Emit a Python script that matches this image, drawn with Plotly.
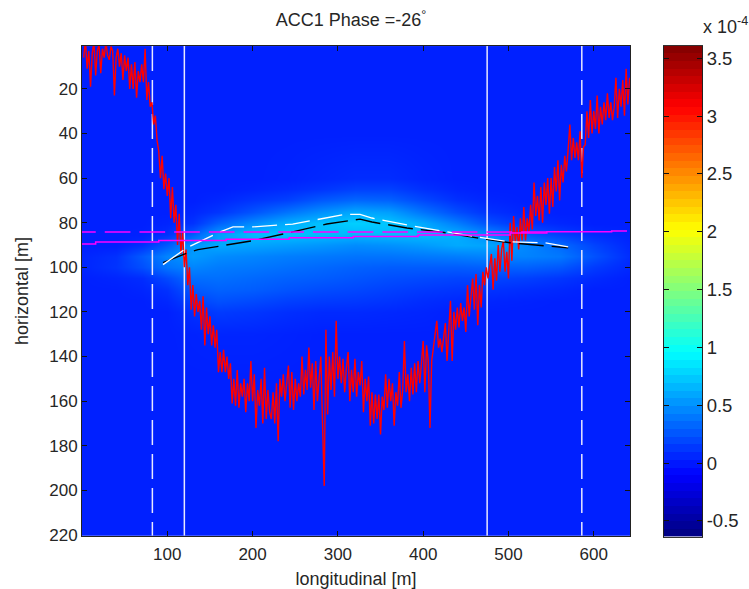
import numpy as np
import plotly.graph_objects as go

# ---- data ----
trace_values = [
    6,-2,11,3,19,4,-1,14,3,0,13,2,6,-1,5,7,1,3,23,6,
    2,10,4,16,5,12,6,20,9,20,8,24,12,17,9,17,2,25,17,28,
    26,36,32,43,48,60,50,65,58,68,60,78,64,80,72,90,76,94,84,100,
    92,108,100,119,108,122,112,120,115,128,113,135,118,130,122,135,126,136,128,147,
    138,147,137,147,140,150,143,161,150,162,146,163,152,158,150,165,152,160,142,160,
    148,172,155,162,150,170,145,168,155,165,168,156,170,152,178,150,158,148,160,150,
    144,163,147,164,150,160,152,158,140,157,146,155,136,154,143,164,142,160,150,140,
    170,198,128,166,140,155,138,158,124,150,140,152,141,156,145,138,160,146,156,141,
    158,147,153,142,165,150,160,149,171,156,170,157,168,157,175,158,164,148,163,150,
    160,152,171,156,162,147,163,155,133,156,148,160,145,157,143,156,142,152,143,133,
    156,135,142,172,142,136,130,124,136,132,138,130,125,142,128,115,142,120,128,118,
    127,116,124,118,129,108,122,112,105,119,103,126,108,118,102,108,100,105,98,94,
    110,96,106,90,102,92,88,102,93,105,80,97,77,89,82,92,78,88,73,88,
    78,84,72,83,62,77,68,79,64,80,62,72,60,76,60,73,55,66,52,70,
    54,62,50,57,47,36,52,42,51,44,52,39,60,46,45,30,42,25,40,30,
    38,23,40,28,36,26,34,22,33,26,34,28,15,33,20,28,16,32,11,27,15,
]
trace_long = list(range(2, 644, 2))

map_long = [0,40,70,100,130,160,200,240,280,320,360,400,440,480,520,560,600,642]
map_horiz = [1,40,60,65,70,75,80,85,90,95,100,105,110,115,120,130,150,221]
map_rows = [
    [.03]*18,
    [.03]*18,
    [.03,.03,.03,.03,.03,.03,.03,.04,.06,.08,.08,.05,.03,.03,.03,.03,.03,.03],
    [.03,.03,.03,.03,.03,.03,.05,.08,.12,.17,.17,.1,.05,.03,.03,.03,.03,.03],
    [.03,.03,.03,.03,.03,.06,.12,.17,.27,.33,.31,.2,.1,.05,.03,.03,.03,.03],
    [.03,.03,.03,.03,.06,.12,.25,.38,.5,.6,.56,.38,.22,.1,.05,.03,.03,.03],
    [.03,.03,.03,.05,.11,.3,.48,.62,.7,.76,.72,.6,.42,.22,.1,.06,.03,.03],
    [.03,.03,.04,.1,.28,.55,.68,.7,.68,.66,.68,.68,.62,.46,.27,.16,.08,.04],
    [.03,.03,.1,.27,.52,.6,.58,.55,.52,.48,.5,.54,.6,.58,.46,.34,.18,.06],
    [.05,.1,.27,.45,.54,.48,.45,.42,.4,.38,.38,.4,.42,.45,.44,.4,.24,.08],
    [.05,.11,.22,.38,.45,.41,.39,.36,.33,.3,.28,.28,.28,.3,.3,.26,.14,.06],
    [.03,.05,.08,.2,.35,.36,.33,.3,.28,.25,.22,.2,.18,.18,.16,.12,.07,.03],
    [.03,.03,.05,.1,.26,.3,.28,.24,.21,.19,.16,.13,.11,.1,.08,.06,.03,.03],
    [.03,.03,.03,.06,.17,.23,.2,.16,.14,.13,.11,.08,.06,.05,.04,.03,.03,.03],
    [.03,.03,.03,.03,.09,.14,.12,.09,.07,.07,.06,.05,.03,.03,.03,.03,.03,.03],
    [.03,.03,.03,.03,.04,.05,.05,.04,.03,.03,.03,.03,.03,.03,.03,.03,.03,.03],
    [.03]*18,
    [.03]*18,
]

white_long = [95,123,162,177,200,247,273,287,308,326,340,381,420,463,502,543,570]
white_horiz = [98.8,91.2,84.1,81.9,81.9,80.6,78.8,77.9,76.3,76.3,77.9,81,83.7,86.4,88.6,89,90.8]
black_long = [95,124,136,165,200,247,287,326,340,381,420,463,502,543,570]
black_horiz = [97.9,93.5,92.1,90.4,88.1,84.1,80.6,78.4,79.7,82.4,84.1,86.8,89,90.4,91.2]

magenta_long = [0,16,90,169,243,318,394,502,545,621,639]
magenta_horiz = [89.5,88.7,88,87.4,86.7,86.2,85.5,84.6,84.1,83.7,83.7]
magenta_dash_long = [-14,545]
magenta_dash_horiz = [84.2,84.2]

solid_marks = [120,475]
dashed_marks = [82.5,586]

x_ticks = [100,200,300,400,500,600]
y_ticks = [20,40,60,80,100,120,140,160,180,200,220]
cbar_ticks = [-0.5,0,0.5,1,1.5,2,2.5,3,3.5]
cbar_labels = ["-0.5","0","0.5","1","1.5","2","2.5","3","3.5"]

Z_MIN, Z_MAX = -0.637, 3.61
X_RANGE = [0.0, 642.5]
Y_RANGE = [220.4, 0.8]
W, H = 749, 589
FONT = "Liberation Sans"
INK = "#262626"


def jet_color(f):
    r = np.clip(min(4*f - 1.5, -4*f + 4.5), 0, 1)
    g = np.clip(min(4*f - 0.5, -4*f + 3.5), 0, 1)
    b = np.clip(min(4*f + 0.5, -4*f + 2.5), 0, 1)
    return f"rgb({int(r*255)},{int(g*255)},{int(b*255)})"


JET_STEPPED = []
for i in range(64):
    c = jet_color((i + 0.5) / 64)
    JET_STEPPED += [[i/64, c], [(i+1)/64, c]]
JET_SMOOTH = [[i/128, jet_color(i/128)] for i in range(129)]

fig = go.Figure()

fig.add_trace(go.Heatmap(x=map_long, y=map_horiz, z=map_rows, colorscale=JET_SMOOTH, zmin=Z_MIN, zmax=Z_MAX,
                         zsmooth="best", showscale=False, xaxis="x", yaxis="y", hoverinfo="skip"))

for v in solid_marks:
    fig.add_trace(go.Scatter(x=[v, v], y=[Y_RANGE[1], Y_RANGE[0]], mode="lines",
                             line=dict(color="#e8e8ff", width=1.5), showlegend=False, hoverinfo="skip"))
for v in dashed_marks:
    fig.add_trace(go.Scatter(x=[v, v], y=[Y_RANGE[1], Y_RANGE[0]], mode="lines",
                             line=dict(color="#e8e8ff", width=1.5, dash="25px,9px"), showlegend=False, hoverinfo="skip"))

fig.add_trace(go.Scatter(x=trace_long, y=trace_values, mode="lines",
                         line=dict(color="#ff0000", width=1.4), showlegend=False, hoverinfo="skip"))

fig.add_trace(go.Scatter(x=black_long, y=black_horiz, mode="lines",
                         line=dict(color="#000000", width=1.4, dash="25px,8px"), showlegend=False, hoverinfo="skip"))
fig.add_trace(go.Scatter(x=white_long, y=white_horiz, mode="lines",
                         line=dict(color="#ffffff", width=1.3, dash="25px,8px"), showlegend=False, hoverinfo="skip"))

fig.add_trace(go.Scatter(x=magenta_dash_long, y=magenta_dash_horiz, mode="lines",
                         line=dict(color="#ff00ff", width=1.5, dash="25.7px,9px"), showlegend=False, hoverinfo="skip"))
fig.add_trace(go.Scatter(x=magenta_long, y=magenta_horiz, mode="lines",
                         line=dict(color="#ff00ff", width=1.5, shape="hv"), showlegend=False, hoverinfo="skip"))

# colour key drawn as its own small heatmap so that ticks can sit on both sides
levels = [Z_MIN + (i + 0.5) * (Z_MAX - Z_MIN) / 64 for i in range(64)]
fig.add_trace(go.Heatmap(x=[0], y=levels, z=[[v] for v in levels], colorscale=JET_STEPPED, zmin=Z_MIN, zmax=Z_MAX,
                         showscale=False, xaxis="x2", yaxis="y2", hoverinfo="skip"))

axis_common = dict(showgrid=False, zeroline=False, showline=True, linecolor="#222222", linewidth=1,
                   mirror="ticks", ticks="inside", ticklen=5, tickcolor="#111111", tickwidth=1.2)

fig.update_layout(
    width=W, height=H, autosize=False,
    margin=dict(l=0, r=0, t=0, b=0),
    paper_bgcolor="white", plot_bgcolor="white",
    font=dict(family=FONT, color=INK, size=16),
    showlegend=False,
    title=dict(text="ACC1 Phase =-26<sup>°</sup>", x=351/W, xanchor="center", y=1-20/H, yanchor="middle",
               font=dict(size=18, family=FONT, color=INK)),
    xaxis=dict(domain=[82/W, 630/W], range=X_RANGE, tickvals=x_ticks, anchor="y", ticklabelstandoff=3,
               title=dict(text="longitudinal [m]", standoff=12, font=dict(size=18)),
               tickfont=dict(size=17), **axis_common),
    yaxis=dict(domain=[1-547/H, 1-47/H], range=Y_RANGE, tickvals=y_ticks, anchor="x",
               title=dict(text="horizontal [m]", standoff=15, font=dict(size=18)),
               tickfont=dict(size=17), **axis_common),
    xaxis2=dict(domain=[664/W, 702/W], range=[-0.5, 0.5], showticklabels=False, ticks="", showgrid=False,
                zeroline=False, showline=True, linecolor="#333333", mirror=True, anchor="y2"),
    yaxis2=dict(domain=[1-548/H, 1-46.5/H], range=[Z_MIN, Z_MAX], tickvals=cbar_ticks, ticktext=cbar_labels,
                side="right", anchor="x2", tickfont=dict(size=18.5), **axis_common),
    annotations=[dict(text="x 10<sup>-4</sup>", x=701/W, y=1-26/H, xref="paper", yref="paper",
                      xanchor="left", yanchor="middle", showarrow=False, font=dict(size=18, family=FONT, color=INK))],
)

fig.write_html("out.html", config=dict(displayModeBar=False),
               post_script="document.body.style.margin='0';document.body.style.overflow='hidden';")
